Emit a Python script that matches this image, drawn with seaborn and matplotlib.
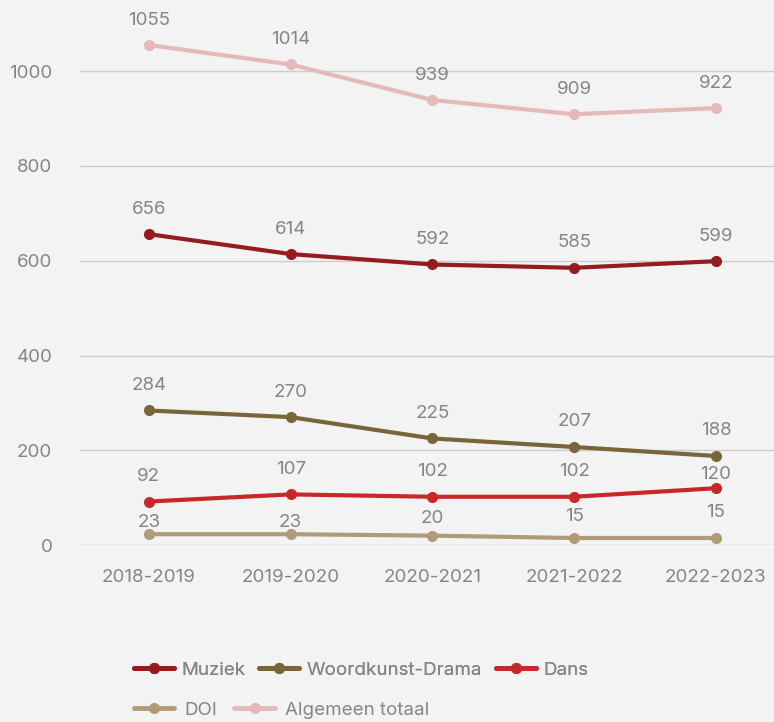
import pandas as pd
import matplotlib.pyplot as plt
import seaborn as sns

# Data
years = ['2018-2019', '2019-2020', '2020-2021', '2021-2022', '2022-2023']
muziek = [656, 614, 592, 585, 599]
woordkunst = [284, 270, 225, 207, 188]
dans = [92, 107, 102, 102, 120]
doi = [23, 23, 20, 15, 15]
totaal = [1055, 1014, 939, 909, 922]

series = ['Muziek', 'Woordkunst-Drama', 'Dans', 'DOI', 'Algemeen totaal']
colors = ['#941b1e', '#7a643a', '#c9282a', '#b09b78', '#e5b9b8']

rows = []
for name, vals in zip(series, [muziek, woordkunst, dans, doi, totaal]):
    for i, (yr, v) in enumerate(zip(years, vals)):
        rows.append({'year': yr, 'pos': i, 'value': v, 'serie': name})
df = pd.DataFrame(rows)

sns.set_style('white')
plt.rcParams['font.family'] = ['Inter', 'DejaVu Sans']
bg = '#f3f3f3'
grey = '#858585'
fs = 13.5

fig = plt.figure(figsize=(7.74, 7.22), dpi=100, facecolor=bg)
ax = fig.add_axes([0.1034, 0.245, 0.8966, 0.755], facecolor=bg)

sns.lineplot(data=df, x='pos', y='value', hue='serie', hue_order=series,
             palette=colors, marker='o', markersize=8, markeredgewidth=0,
             linewidth=3, ax=ax, legend=False)

# value labels (offset in px above the point; a few are nudged to avoid overlap)
nudge = {('DOI', 0): 12, ('DOI', 1): 12, ('DOI', 2): 17, ('DOI', 3): 21,
         ('Dans', 4): 14}
for name, vals in zip(series, [muziek, woordkunst, dans, doi, totaal]):
    for i, v in enumerate(vals):
        off = nudge.get((name, i), 25) * 0.72
        ax.annotate(str(v), (i, v), xytext=(0, off), textcoords='offset points',
                    ha='center', va='center', fontsize=fs, color=grey)

ax.set_xlim(-0.486, 4.41)
ax.set_ylim(0, 1150)
ax.set_yticks([0, 200, 400, 600, 800, 1000])
ax.set_xticks(range(len(years)))
ax.set_xticklabels(years)
ax.yaxis.grid(True, color='#cccccc', linewidth=1)
ax.set_axisbelow(True)
for s in ax.spines.values():
    s.set_visible(False)
ax.tick_params(axis='both', length=0, labelsize=fs, colors=grey)
ax.tick_params(axis='y', pad=20)
ax.tick_params(axis='x', pad=17)
ax.set_xlabel('')
ax.set_ylabel('')

handles = [plt.Line2D([], [], color=c, linewidth=3.5, marker='o', markersize=7)
           for c in colors]
common = dict(loc='center left', frameon=False, fontsize=fs, labelcolor=grey,
              handlelength=2.15, borderpad=0, borderaxespad=0)
leg1 = fig.legend(handles[:3], series[:3], ncol=3, handletextpad=0.4,
                  columnspacing=0.7,
                  bbox_to_anchor=(134 / 774, 1 - 670 / 722), **common)
fig.add_artist(leg1)
leg2 = fig.legend(handles[3:], series[3:], ncol=2, handletextpad=0.55,
                  columnspacing=0.9,
                  bbox_to_anchor=(134 / 774, 1 - 710 / 722), **common)

fig.savefig('out.png', dpi=100, facecolor=bg)
